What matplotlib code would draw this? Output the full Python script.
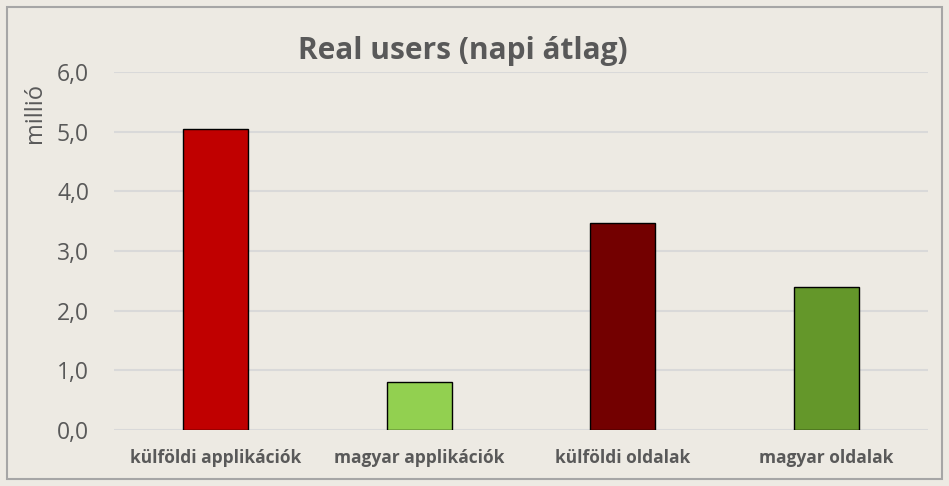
import matplotlib
matplotlib.use("Agg")
import matplotlib.pyplot as plt
from matplotlib.patches import Rectangle

# chart data (millió, napi átlag)
categories = ["külföldi applikációk", "magyar applikációk", "külföldi oldalak", "magyar oldalak"]
values = [5.05, 0.80, 3.47, 2.39]
colors = ["#C00000", "#92D050", "#730000", "#64972A"]
y_ticks = [0, 1, 2, 3, 4, 5, 6]

plt.rcParams["font.family"] = ["Open Sans", "DejaVu Sans"]
text_color = "#595959"
bg = "#EDEAE3"

fig = plt.figure(figsize=(9.49, 4.86), dpi=100, facecolor=bg)
# outer chart border
fig.patches.append(Rectangle((7 / 949, 7 / 486), 935 / 949, 472 / 486, transform=fig.transFigure,
                             fill=False, edgecolor="#A6A6A6", linewidth=1.5))

ax = fig.add_axes([114 / 949, (486 - 430) / 486, 814 / 949, 358 / 486])
ax.set_facecolor(bg)

x = range(len(categories))
ax.bar(x, values, width=0.32, color=colors, edgecolor="black", linewidth=1, zorder=3)

ax.set_xlim(-0.5, len(categories) - 0.5)
ax.set_ylim(0, 6)
ax.set_yticks(y_ticks)
ax.set_yticklabels([f"{t:.1f}".replace(".", ",") for t in y_ticks], fontsize=16.5, color=text_color)
ax.set_xticks(list(x))
ax.set_xticklabels(categories, fontsize=12.5, fontweight="bold", color=text_color)
ax.tick_params(axis="both", length=0)
ax.tick_params(axis="y", pad=18)
ax.tick_params(axis="x", pad=14)
ax.grid(axis="y", color="#D9D9D9", linewidth=1.5, zorder=0)
for s in ax.spines.values():
    s.set_visible(False)

fig.text(463 / 949, 1 - 51 / 486, "Real users (napi átlag)", ha="center", va="center",
         fontsize=21.5, fontweight="bold", color=text_color)
fig.text(35 / 949, 1 - 113 / 486, "millió", ha="center", va="center", rotation=90,
         fontsize=17, color=text_color)

fig.savefig("out.png", dpi=100, facecolor=bg)
